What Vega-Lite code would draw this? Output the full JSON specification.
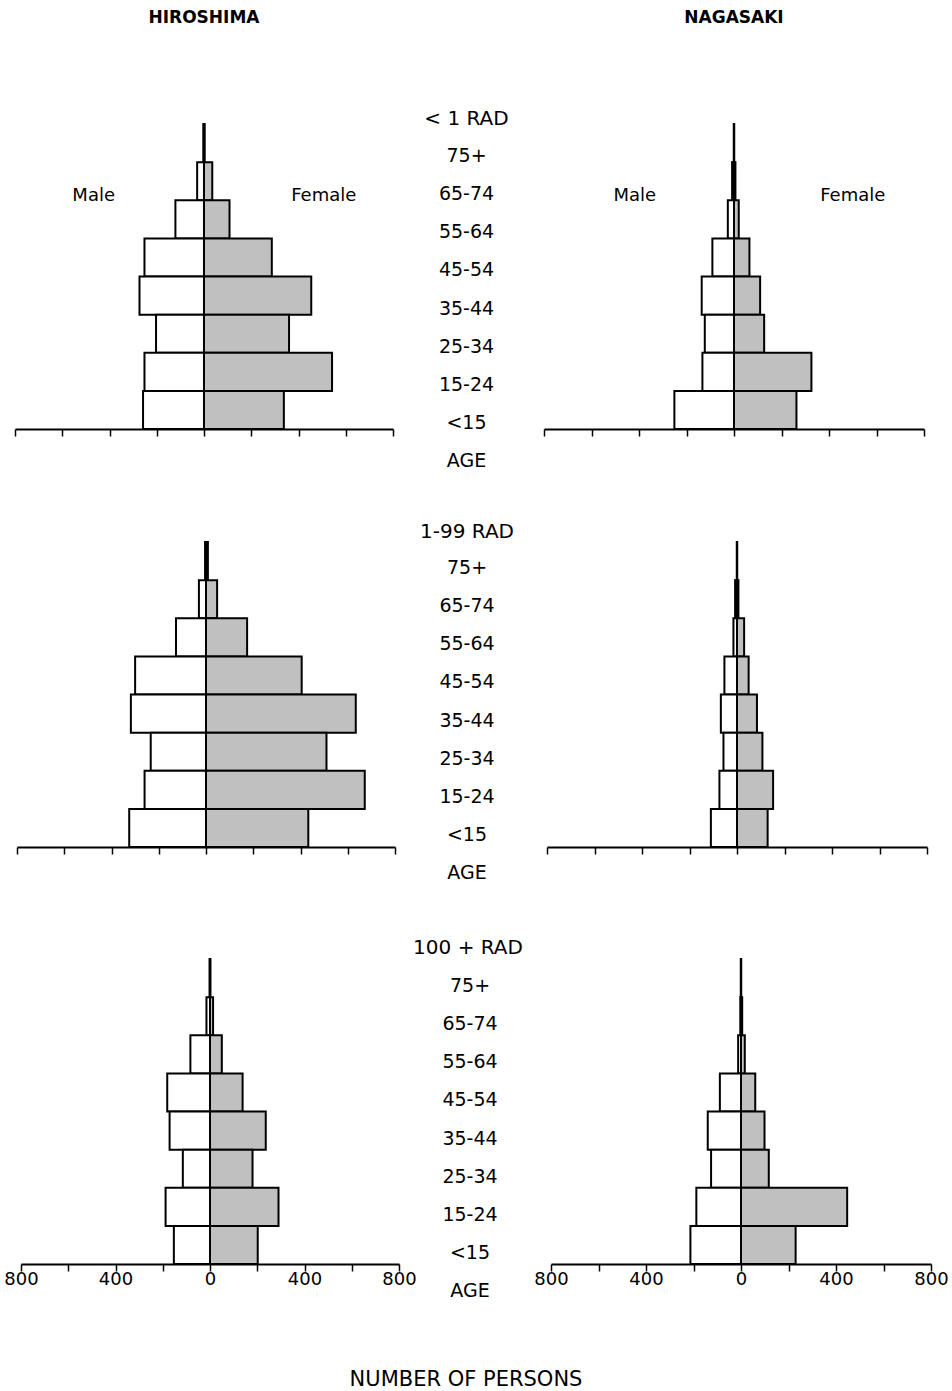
{
  "$schema": "https://vega.github.io/schema/vega-lite/v6.json",
  "background": "white",
  "padding": {"left": 3, "top": 8, "right": 4, "bottom": 4},
  "spacing": 50,
  "title": {"text": "NUMBER OF PERSONS", "orient": "bottom", "anchor": "middle", "fontSize": 21, "fontWeight": "normal", "baseline": "middle", "offset": 78, "dx": -10},
  "config": {
    "view": {"stroke": null},
    "font": "DejaVu Sans",
    "text": {"font": "DejaVu Sans", "color": "black"},
    "title": {"font": "DejaVu Sans", "color": "black", "fontWeight": "normal", "anchor": "middle"},
    "axis": {"domainColor": "black", "domainWidth": 2, "tickColor": "black", "tickWidth": 1.5, "tickSize": 7, "labelFont": "DejaVu Sans", "labelFontSize": 18, "labelColor": "black", "grid": false}
  },
  "datasets": {
    "pop": [
      {"city": "Hiroshima", "dose": "<1 RAD", "age": "75+", "sex": "Male", "n": 3},
      {"city": "Hiroshima", "dose": "<1 RAD", "age": "75+", "sex": "Female", "n": 3},
      {"city": "Hiroshima", "dose": "<1 RAD", "age": "65-74", "sex": "Male", "n": 29},
      {"city": "Hiroshima", "dose": "<1 RAD", "age": "65-74", "sex": "Female", "n": 35},
      {"city": "Hiroshima", "dose": "<1 RAD", "age": "55-64", "sex": "Male", "n": 121},
      {"city": "Hiroshima", "dose": "<1 RAD", "age": "55-64", "sex": "Female", "n": 108},
      {"city": "Hiroshima", "dose": "<1 RAD", "age": "45-54", "sex": "Male", "n": 252},
      {"city": "Hiroshima", "dose": "<1 RAD", "age": "45-54", "sex": "Female", "n": 287},
      {"city": "Hiroshima", "dose": "<1 RAD", "age": "35-44", "sex": "Male", "n": 273},
      {"city": "Hiroshima", "dose": "<1 RAD", "age": "35-44", "sex": "Female", "n": 454},
      {"city": "Hiroshima", "dose": "<1 RAD", "age": "25-34", "sex": "Male", "n": 203},
      {"city": "Hiroshima", "dose": "<1 RAD", "age": "25-34", "sex": "Female", "n": 360},
      {"city": "Hiroshima", "dose": "<1 RAD", "age": "15-24", "sex": "Male", "n": 252},
      {"city": "Hiroshima", "dose": "<1 RAD", "age": "15-24", "sex": "Female", "n": 542},
      {"city": "Hiroshima", "dose": "<1 RAD", "age": "<15", "sex": "Male", "n": 258},
      {"city": "Hiroshima", "dose": "<1 RAD", "age": "<15", "sex": "Female", "n": 338},
      {"city": "Nagasaki", "dose": "<1 RAD", "age": "75+", "sex": "Male", "n": 1},
      {"city": "Nagasaki", "dose": "<1 RAD", "age": "75+", "sex": "Female", "n": 1},
      {"city": "Nagasaki", "dose": "<1 RAD", "age": "65-74", "sex": "Male", "n": 8},
      {"city": "Nagasaki", "dose": "<1 RAD", "age": "65-74", "sex": "Female", "n": 6},
      {"city": "Nagasaki", "dose": "<1 RAD", "age": "55-64", "sex": "Male", "n": 26},
      {"city": "Nagasaki", "dose": "<1 RAD", "age": "55-64", "sex": "Female", "n": 20},
      {"city": "Nagasaki", "dose": "<1 RAD", "age": "45-54", "sex": "Male", "n": 91},
      {"city": "Nagasaki", "dose": "<1 RAD", "age": "45-54", "sex": "Female", "n": 65},
      {"city": "Nagasaki", "dose": "<1 RAD", "age": "35-44", "sex": "Male", "n": 136},
      {"city": "Nagasaki", "dose": "<1 RAD", "age": "35-44", "sex": "Female", "n": 110},
      {"city": "Nagasaki", "dose": "<1 RAD", "age": "25-34", "sex": "Male", "n": 123},
      {"city": "Nagasaki", "dose": "<1 RAD", "age": "25-34", "sex": "Female", "n": 127},
      {"city": "Nagasaki", "dose": "<1 RAD", "age": "15-24", "sex": "Male", "n": 133},
      {"city": "Nagasaki", "dose": "<1 RAD", "age": "15-24", "sex": "Female", "n": 326},
      {"city": "Nagasaki", "dose": "<1 RAD", "age": "<15", "sex": "Male", "n": 251},
      {"city": "Nagasaki", "dose": "<1 RAD", "age": "<15", "sex": "Female", "n": 263},
      {"city": "Hiroshima", "dose": "1-99 RAD", "age": "75+", "sex": "Male", "n": 4},
      {"city": "Hiroshima", "dose": "1-99 RAD", "age": "75+", "sex": "Female", "n": 8},
      {"city": "Hiroshima", "dose": "1-99 RAD", "age": "65-74", "sex": "Male", "n": 30},
      {"city": "Hiroshima", "dose": "1-99 RAD", "age": "65-74", "sex": "Female", "n": 47},
      {"city": "Hiroshima", "dose": "1-99 RAD", "age": "55-64", "sex": "Male", "n": 127},
      {"city": "Hiroshima", "dose": "1-99 RAD", "age": "55-64", "sex": "Female", "n": 174},
      {"city": "Hiroshima", "dose": "1-99 RAD", "age": "45-54", "sex": "Male", "n": 300},
      {"city": "Hiroshima", "dose": "1-99 RAD", "age": "45-54", "sex": "Female", "n": 405},
      {"city": "Hiroshima", "dose": "1-99 RAD", "age": "35-44", "sex": "Male", "n": 318},
      {"city": "Hiroshima", "dose": "1-99 RAD", "age": "35-44", "sex": "Female", "n": 634},
      {"city": "Hiroshima", "dose": "1-99 RAD", "age": "25-34", "sex": "Male", "n": 234},
      {"city": "Hiroshima", "dose": "1-99 RAD", "age": "25-34", "sex": "Female", "n": 510},
      {"city": "Hiroshima", "dose": "1-99 RAD", "age": "15-24", "sex": "Male", "n": 260},
      {"city": "Hiroshima", "dose": "1-99 RAD", "age": "15-24", "sex": "Female", "n": 672},
      {"city": "Hiroshima", "dose": "1-99 RAD", "age": "<15", "sex": "Male", "n": 325},
      {"city": "Hiroshima", "dose": "1-99 RAD", "age": "<15", "sex": "Female", "n": 433},
      {"city": "Nagasaki", "dose": "1-99 RAD", "age": "75+", "sex": "Male", "n": 1},
      {"city": "Nagasaki", "dose": "1-99 RAD", "age": "75+", "sex": "Female", "n": 1},
      {"city": "Nagasaki", "dose": "1-99 RAD", "age": "65-74", "sex": "Male", "n": 8},
      {"city": "Nagasaki", "dose": "1-99 RAD", "age": "65-74", "sex": "Female", "n": 6},
      {"city": "Nagasaki", "dose": "1-99 RAD", "age": "55-64", "sex": "Male", "n": 15},
      {"city": "Nagasaki", "dose": "1-99 RAD", "age": "55-64", "sex": "Female", "n": 30},
      {"city": "Nagasaki", "dose": "1-99 RAD", "age": "45-54", "sex": "Male", "n": 53},
      {"city": "Nagasaki", "dose": "1-99 RAD", "age": "45-54", "sex": "Female", "n": 49},
      {"city": "Nagasaki", "dose": "1-99 RAD", "age": "35-44", "sex": "Male", "n": 68},
      {"city": "Nagasaki", "dose": "1-99 RAD", "age": "35-44", "sex": "Female", "n": 84},
      {"city": "Nagasaki", "dose": "1-99 RAD", "age": "25-34", "sex": "Male", "n": 57},
      {"city": "Nagasaki", "dose": "1-99 RAD", "age": "25-34", "sex": "Female", "n": 107},
      {"city": "Nagasaki", "dose": "1-99 RAD", "age": "15-24", "sex": "Male", "n": 74},
      {"city": "Nagasaki", "dose": "1-99 RAD", "age": "15-24", "sex": "Female", "n": 152},
      {"city": "Nagasaki", "dose": "1-99 RAD", "age": "<15", "sex": "Male", "n": 110},
      {"city": "Nagasaki", "dose": "1-99 RAD", "age": "<15", "sex": "Female", "n": 129},
      {"city": "Hiroshima", "dose": "100+ RAD", "age": "75+", "sex": "Male", "n": 2},
      {"city": "Hiroshima", "dose": "100+ RAD", "age": "75+", "sex": "Female", "n": 2},
      {"city": "Hiroshima", "dose": "100+ RAD", "age": "65-74", "sex": "Male", "n": 15},
      {"city": "Hiroshima", "dose": "100+ RAD", "age": "65-74", "sex": "Female", "n": 13},
      {"city": "Hiroshima", "dose": "100+ RAD", "age": "55-64", "sex": "Male", "n": 83},
      {"city": "Hiroshima", "dose": "100+ RAD", "age": "55-64", "sex": "Female", "n": 50},
      {"city": "Hiroshima", "dose": "100+ RAD", "age": "45-54", "sex": "Male", "n": 181},
      {"city": "Hiroshima", "dose": "100+ RAD", "age": "45-54", "sex": "Female", "n": 138},
      {"city": "Hiroshima", "dose": "100+ RAD", "age": "35-44", "sex": "Male", "n": 171},
      {"city": "Hiroshima", "dose": "100+ RAD", "age": "35-44", "sex": "Female", "n": 236},
      {"city": "Hiroshima", "dose": "100+ RAD", "age": "25-34", "sex": "Male", "n": 115},
      {"city": "Hiroshima", "dose": "100+ RAD", "age": "25-34", "sex": "Female", "n": 180},
      {"city": "Hiroshima", "dose": "100+ RAD", "age": "15-24", "sex": "Male", "n": 188},
      {"city": "Hiroshima", "dose": "100+ RAD", "age": "15-24", "sex": "Female", "n": 290},
      {"city": "Hiroshima", "dose": "100+ RAD", "age": "<15", "sex": "Male", "n": 153},
      {"city": "Hiroshima", "dose": "100+ RAD", "age": "<15", "sex": "Female", "n": 202},
      {"city": "Nagasaki", "dose": "100+ RAD", "age": "75+", "sex": "Male", "n": 1},
      {"city": "Nagasaki", "dose": "100+ RAD", "age": "75+", "sex": "Female", "n": 1},
      {"city": "Nagasaki", "dose": "100+ RAD", "age": "65-74", "sex": "Male", "n": 3},
      {"city": "Nagasaki", "dose": "100+ RAD", "age": "65-74", "sex": "Female", "n": 5},
      {"city": "Nagasaki", "dose": "100+ RAD", "age": "55-64", "sex": "Male", "n": 12},
      {"city": "Nagasaki", "dose": "100+ RAD", "age": "55-64", "sex": "Female", "n": 16},
      {"city": "Nagasaki", "dose": "100+ RAD", "age": "45-54", "sex": "Male", "n": 89},
      {"city": "Nagasaki", "dose": "100+ RAD", "age": "45-54", "sex": "Female", "n": 60},
      {"city": "Nagasaki", "dose": "100+ RAD", "age": "35-44", "sex": "Male", "n": 140},
      {"city": "Nagasaki", "dose": "100+ RAD", "age": "35-44", "sex": "Female", "n": 99},
      {"city": "Nagasaki", "dose": "100+ RAD", "age": "25-34", "sex": "Male", "n": 126},
      {"city": "Nagasaki", "dose": "100+ RAD", "age": "25-34", "sex": "Female", "n": 117},
      {"city": "Nagasaki", "dose": "100+ RAD", "age": "15-24", "sex": "Male", "n": 188},
      {"city": "Nagasaki", "dose": "100+ RAD", "age": "15-24", "sex": "Female", "n": 447},
      {"city": "Nagasaki", "dose": "100+ RAD", "age": "<15", "sex": "Male", "n": 213},
      {"city": "Nagasaki", "dose": "100+ RAD", "age": "<15", "sex": "Female", "n": 230}
    ],
    "ages": [
      {"label": "75+"}, {"label": "65-74"}, {"label": "55-64"}, {"label": "45-54"},
      {"label": "35-44"}, {"label": "25-34"}, {"label": "15-24"}, {"label": "<15"}, {"label": "AGE"}
    ]
  },
  "vconcat": [
    {
      "bounds": "flush",
      "spacing": 0,
      "hconcat": [
        {
          "width": 378, "height": 305,
          "title": {"text": "HIROSHIMA", "fontSize": 17, "fontWeight": "bold", "offset": 88.5, "baseline": "middle"},
          "data": {"name": "pop"},
          "encoding": {"y": {"field": "age", "type": "nominal", "scale": {"domain": ["75+","65-74","55-64","45-54","35-44","25-34","15-24","<15"], "paddingInner": 0, "paddingOuter": 0}, "axis": null}},
          "layer": [
            {"transform": [{"filter": "datum.city === 'Hiroshima' && datum.dose === '<1 RAD' && datum.sex === 'Male'"}],
             "mark": {"type": "bar", "fill": "white", "stroke": "black", "strokeWidth": 2},
             "encoding": {"x": {"field": "n", "type": "quantitative", "scale": {"domain": [-800, 800], "nice": false, "reverse": true}, "axis": null}, "x2": {"datum": 0}}},
            {"transform": [{"filter": "datum.city === 'Hiroshima' && datum.dose === '<1 RAD' && datum.sex === 'Female'"}],
             "mark": {"type": "bar", "fill": "#c0c0c0", "stroke": "black", "strokeWidth": 2},
             "encoding": {"x": {"field": "n", "type": "quantitative", "scale": {"domain": [-800, 800], "nice": false}, "axis": {"title": null, "values": [-800,-600,-400,-200,0,200,400,600,800], "labels": false}}, "x2": {"datum": 0}}},
            {"data": {"values": [{"t": "Male"}]},
             "mark": {"type": "text", "fontSize": 18, "dy": 15},
             "encoding": {"text": {"field": "t"}, "x": {"datum": -467, "type": "quantitative", "scale": {"domain": [-800, 800], "nice": false}, "axis": null}, "y": {"datum": "65-74", "type": "nominal"}}},
            {"data": {"values": [{"t": "Female"}]},
             "mark": {"type": "text", "fontSize": 18, "dy": 15},
             "encoding": {"text": {"field": "t"}, "x": {"datum": 507, "type": "quantitative", "scale": {"domain": [-800, 800], "nice": false}, "axis": null}, "y": {"datum": "65-74", "type": "nominal"}}}
          ],
          "resolve": {"scale": {"x": "independent"}}
        },
        {
          "width": 151, "height": 343,
          "title": {"text": "< 1 RAD", "fontSize": 20, "offset": -15, "baseline": "middle", "dx": -2},
          "data": {"name": "ages"},
          "mark": {"type": "text", "fontSize": 19, "dy": 13, "dx": -2},
          "encoding": {"y": {"field": "label", "type": "nominal", "scale": {"domain": ["75+","65-74","55-64","45-54","35-44","25-34","15-24","<15","AGE"], "paddingInner": 0, "paddingOuter": 0}, "axis": null}, "text": {"field": "label"}}
        },
        {
          "width": 380, "height": 305,
          "title": {"text": "NAGASAKI", "fontSize": 17, "fontWeight": "bold", "offset": 88.5, "baseline": "middle"},
          "data": {"name": "pop"},
          "encoding": {"y": {"field": "age", "type": "nominal", "scale": {"domain": ["75+","65-74","55-64","45-54","35-44","25-34","15-24","<15"], "paddingInner": 0, "paddingOuter": 0}, "axis": null}},
          "layer": [
            {"transform": [{"filter": "datum.city === 'Nagasaki' && datum.dose === '<1 RAD' && datum.sex === 'Male'"}],
             "mark": {"type": "bar", "fill": "white", "stroke": "black", "strokeWidth": 2},
             "encoding": {"x": {"field": "n", "type": "quantitative", "scale": {"domain": [-800, 800], "nice": false, "reverse": true}, "axis": null}, "x2": {"datum": 0}}},
            {"transform": [{"filter": "datum.city === 'Nagasaki' && datum.dose === '<1 RAD' && datum.sex === 'Female'"}],
             "mark": {"type": "bar", "fill": "#c0c0c0", "stroke": "black", "strokeWidth": 2},
             "encoding": {"x": {"field": "n", "type": "quantitative", "scale": {"domain": [-800, 800], "nice": false}, "axis": {"title": null, "values": [-800,-600,-400,-200,0,200,400,600,800], "labels": false}}, "x2": {"datum": 0}}},
            {"data": {"values": [{"t": "Male"}]},
             "mark": {"type": "text", "fontSize": 18, "dy": 15},
             "encoding": {"text": {"field": "t"}, "x": {"datum": -418, "type": "quantitative", "scale": {"domain": [-800, 800], "nice": false}, "axis": null}, "y": {"datum": "65-74", "type": "nominal"}}},
            {"data": {"values": [{"t": "Female"}]},
             "mark": {"type": "text", "fontSize": 18, "dy": 15},
             "encoding": {"text": {"field": "t"}, "x": {"datum": 500, "type": "quantitative", "scale": {"domain": [-800, 800], "nice": false}, "axis": null}, "y": {"datum": "65-74", "type": "nominal"}}}
          ],
          "resolve": {"scale": {"x": "independent"}}
        }
      ]
    },
    {
      "bounds": "flush",
      "spacing": 0,
      "hconcat": [
        {"width": 2, "height": 346, "data": {"values": []}, "mark": "point"},
        {
          "width": 378, "height": 305,
          "data": {"name": "pop"},
          "encoding": {"y": {"field": "age", "type": "nominal", "scale": {"domain": ["75+","65-74","55-64","45-54","35-44","25-34","15-24","<15"], "paddingInner": 0, "paddingOuter": 0}, "axis": null}},
          "layer": [
            {"transform": [{"filter": "datum.city === 'Hiroshima' && datum.dose === '1-99 RAD' && datum.sex === 'Male'"}],
             "mark": {"type": "bar", "fill": "white", "stroke": "black", "strokeWidth": 2},
             "encoding": {"x": {"field": "n", "type": "quantitative", "scale": {"domain": [-800, 800], "nice": false, "reverse": true}, "axis": null}, "x2": {"datum": 0}}},
            {"transform": [{"filter": "datum.city === 'Hiroshima' && datum.dose === '1-99 RAD' && datum.sex === 'Female'"}],
             "mark": {"type": "bar", "fill": "#c0c0c0", "stroke": "black", "strokeWidth": 2},
             "encoding": {"x": {"field": "n", "type": "quantitative", "scale": {"domain": [-800, 800], "nice": false}, "axis": {"title": null, "values": [-800,-600,-400,-200,0,200,400,600,800], "labels": false}}, "x2": {"datum": 0}}}
          ],
          "resolve": {"scale": {"x": "independent"}}
        },
        {
          "width": 152, "height": 343,
          "title": {"text": "1-99 RAD", "fontSize": 20, "offset": -9.5, "baseline": "middle", "dx": -4},
          "data": {"name": "ages"},
          "mark": {"type": "text", "fontSize": 19, "dy": 7, "dx": -4},
          "encoding": {"y": {"field": "label", "type": "nominal", "scale": {"domain": ["75+","65-74","55-64","45-54","35-44","25-34","15-24","<15","AGE"], "paddingInner": 0, "paddingOuter": 0}, "axis": null}, "text": {"field": "label"}}
        },
        {
          "width": 380, "height": 305,
          "data": {"name": "pop"},
          "encoding": {"y": {"field": "age", "type": "nominal", "scale": {"domain": ["75+","65-74","55-64","45-54","35-44","25-34","15-24","<15"], "paddingInner": 0, "paddingOuter": 0}, "axis": null}},
          "layer": [
            {"transform": [{"filter": "datum.city === 'Nagasaki' && datum.dose === '1-99 RAD' && datum.sex === 'Male'"}],
             "mark": {"type": "bar", "fill": "white", "stroke": "black", "strokeWidth": 2},
             "encoding": {"x": {"field": "n", "type": "quantitative", "scale": {"domain": [-800, 800], "nice": false, "reverse": true}, "axis": null}, "x2": {"datum": 0}}},
            {"transform": [{"filter": "datum.city === 'Nagasaki' && datum.dose === '1-99 RAD' && datum.sex === 'Female'"}],
             "mark": {"type": "bar", "fill": "#c0c0c0", "stroke": "black", "strokeWidth": 2},
             "encoding": {"x": {"field": "n", "type": "quantitative", "scale": {"domain": [-800, 800], "nice": false}, "axis": {"title": null, "values": [-800,-600,-400,-200,0,200,400,600,800], "labels": false}}, "x2": {"datum": 0}}}
          ],
          "resolve": {"scale": {"x": "independent"}}
        }
      ]
    },
    {
      "bounds": "flush",
      "spacing": 0,
      "hconcat": [
        {"width": 6, "height": 305, "data": {"values": []}, "mark": "point"},
        {
          "width": 378, "height": 305,
          "data": {"name": "pop"},
          "encoding": {"y": {"field": "age", "type": "nominal", "scale": {"domain": ["75+","65-74","55-64","45-54","35-44","25-34","15-24","<15"], "paddingInner": 0, "paddingOuter": 0}, "axis": null}},
          "layer": [
            {"transform": [{"filter": "datum.city === 'Hiroshima' && datum.dose === '100+ RAD' && datum.sex === 'Male'"}],
             "mark": {"type": "bar", "fill": "white", "stroke": "black", "strokeWidth": 2},
             "encoding": {"x": {"field": "n", "type": "quantitative", "scale": {"domain": [-800, 800], "nice": false, "reverse": true}, "axis": null}, "x2": {"datum": 0}}},
            {"transform": [{"filter": "datum.city === 'Hiroshima' && datum.dose === '100+ RAD' && datum.sex === 'Female'"}],
             "mark": {"type": "bar", "fill": "#c0c0c0", "stroke": "black", "strokeWidth": 2},
             "encoding": {"x": {"field": "n", "type": "quantitative", "scale": {"domain": [-800, 800], "nice": false}, "axis": {"title": null, "values": [-800,-600,-400,-200,0,200,400,600,800], "labelExpr": "abs(datum.value) % 400 === 0 ? format(abs(datum.value), 'd') : ''", "labelFlush": false, "labelOverlap": false, "labelPadding": -1}}, "x2": {"datum": 0}}}
          ],
          "resolve": {"scale": {"x": "independent"}}
        },
        {
          "width": 152, "height": 343,
          "title": {"text": "100 + RAD", "fontSize": 20, "offset": -9, "baseline": "middle", "dx": -7},
          "data": {"name": "ages"},
          "mark": {"type": "text", "fontSize": 19, "dy": 8, "dx": -5},
          "encoding": {"y": {"field": "label", "type": "nominal", "scale": {"domain": ["75+","65-74","55-64","45-54","35-44","25-34","15-24","<15","AGE"], "paddingInner": 0, "paddingOuter": 0}, "axis": null}, "text": {"field": "label"}}
        },
        {
          "width": 380, "height": 305,
          "data": {"name": "pop"},
          "encoding": {"y": {"field": "age", "type": "nominal", "scale": {"domain": ["75+","65-74","55-64","45-54","35-44","25-34","15-24","<15"], "paddingInner": 0, "paddingOuter": 0}, "axis": null}},
          "layer": [
            {"transform": [{"filter": "datum.city === 'Nagasaki' && datum.dose === '100+ RAD' && datum.sex === 'Male'"}],
             "mark": {"type": "bar", "fill": "white", "stroke": "black", "strokeWidth": 2},
             "encoding": {"x": {"field": "n", "type": "quantitative", "scale": {"domain": [-800, 800], "nice": false, "reverse": true}, "axis": null}, "x2": {"datum": 0}}},
            {"transform": [{"filter": "datum.city === 'Nagasaki' && datum.dose === '100+ RAD' && datum.sex === 'Female'"}],
             "mark": {"type": "bar", "fill": "#c0c0c0", "stroke": "black", "strokeWidth": 2},
             "encoding": {"x": {"field": "n", "type": "quantitative", "scale": {"domain": [-800, 800], "nice": false}, "axis": {"title": null, "values": [-800,-600,-400,-200,0,200,400,600,800], "labelExpr": "abs(datum.value) % 400 === 0 ? format(abs(datum.value), 'd') : ''", "labelFlush": false, "labelOverlap": false, "labelPadding": -1}}, "x2": {"datum": 0}}}
          ],
          "resolve": {"scale": {"x": "independent"}}
        }
      ]
    }
  ]
}
